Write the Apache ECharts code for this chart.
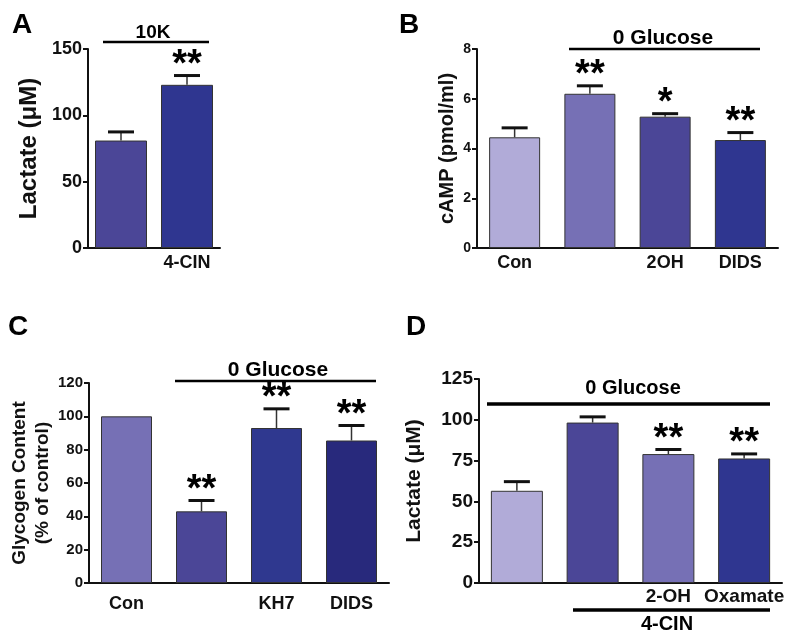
<!DOCTYPE html>
<html><head><meta charset="utf-8">
<script src="https://cdn.jsdelivr.net/npm/echarts@6/dist/echarts.min.js"></script>
<style>html,body{margin:0;padding:0;background:#fff}#c{width:800px;height:643px}</style>
</head><body><div id="c"></div>
<script>
// ---- Data ----
const aCategories = ['', '4-CIN'];
const aValues = [81, 123];
const aSem = [6.5, 7];
const aSig = ['', '**'];

const bCategories = ['Con', '', '2OH', 'DIDS'];
const bValues = [4.45, 6.2, 5.28, 4.34];
const bSem = [0.38, 0.32, 0.12, 0.3];
const bSig = ['', '**', '*', '**'];

const cCategories = ['Con', '', 'KH7', 'DIDS'];
const cValues = [100, 43, 93, 85.5];
const cSem = [0, 6.5, 11.5, 9];
const cSig = ['', '**', '**', '**'];

const dCategories = ['', '', '2-OH', 'Oxamate'];
const dValues = [56.5, 98.3, 79, 76.3];
const dSem = [5.6, 3.5, 2.8, 2.8];
const dSig = ['', '', '**', '**'];

// ---- Styles ----
const LAV = '#b1abd8', MED = '#7670b5', MID = '#4b4697', DRK = '#2f3690', DRK2 = '#28297c', DRK3 = '#2f388f';
const colorsA = [MID, DRK];
const colorsB = [LAV, MED, MID, DRK];
const colorsC = [MED, MID, DRK3, DRK2];
const colorsD = [LAV, MID, MED, DRK];
const FONT = "'Liberation Sans', Arial, sans-serif";

const chart = echarts.init(document.getElementById('c'), null, {renderer: 'canvas'});

const panels = [
  {cats: aCategories, vals: aValues, sem: aSem, sig: aSig, colors: colorsA, min: 0, max: 150, interval: 50,
   grid: {left: 88, top: 49, width: 132, height: 199}, name: 'Lactate (\u03bcM)', nameSize: 24, nameGap: 44,
   tickSize: 18, xSize: 18, xMargin: 6, barWidth: 52},
  {cats: bCategories, vals: bValues, sem: bSem, sig: bSig, colors: colorsB, min: 0, max: 8, interval: 2,
   grid: {left: 477, top: 49, width: 301, height: 199}, name: 'cAMP (pmol/ml)', nameSize: 20, nameGap: 17,
   tickSize: 14, xSize: 18, xMargin: 6, barWidth: 51},
  {cats: cCategories, vals: cValues, sem: cSem, sig: cSig, colors: colorsC, min: 0, max: 120, interval: 20,
   grid: {left: 89, top: 383, width: 300, height: 200}, name: 'Glycogen Content\n(% of control)', nameSize: 19, nameGap: 28,
   tickSize: 15, xSize: 18, xMargin: 12, barWidth: 51},
  {cats: dCategories, vals: dValues, sem: dSem, sig: dSig, colors: colorsD, min: 0, max: 125, interval: 25,
   grid: {left: 479, top: 379, width: 303, height: 204}, name: 'Lactate (\u03bcM)', nameSize: 21, nameGap: 52,
   tickSize: 19, xSize: 19, xMargin: 4, barWidth: 52}
];

const grids = [], xAxes = [], yAxes = [], series = [];
panels.forEach((p, i) => {
  grids.push(Object.assign({containLabel: false}, p.grid));
  xAxes.push({
    type: 'category', gridIndex: i, data: p.cats,
    axisLine: {lineStyle: {color: '#111', width: 2}},
    axisTick: {show: false},
    axisLabel: {color: '#111', fontFamily: FONT, fontWeight: 'bold', fontSize: p.xSize, margin: p.xMargin, interval: 0}
  });
  yAxes.push({
    type: 'value', gridIndex: i, min: p.min, max: p.max, interval: p.interval,
    name: p.name, nameLocation: 'middle', nameRotate: 90, nameGap: p.nameGap,
    nameTextStyle: {color: '#111', fontFamily: FONT, fontWeight: 'bold', fontSize: p.nameSize, lineHeight: p.nameSize * 1.2},
    axisLine: {show: true, lineStyle: {color: '#111', width: 2}},
    axisTick: {show: true, length: 5, lineStyle: {color: '#111', width: 2}},
    axisLabel: {color: '#111', fontFamily: FONT, fontWeight: 'bold', fontSize: p.tickSize, margin: 6},
    splitLine: {show: false}
  });
  series.push({
    type: 'bar', xAxisIndex: i, yAxisIndex: i, barWidth: p.barWidth,
    data: p.vals.map((v, k) => ({value: v, itemStyle: {color: p.colors[k]}})),
    itemStyle: {borderColor: '#333', borderWidth: 1},
    silent: true, animation: false
  });
  series.push({
    type: 'custom', xAxisIndex: i, yAxisIndex: i, silent: true, animation: false, clip: false, z: 5,
    data: p.vals.map((v, k) => [k, v, p.sem[k]]),
    renderItem: function (params, api) {
      const k = api.value(0), v = api.value(1), e = api.value(2);
      const base = api.coord([k, v]);
      const top = api.coord([k, v + e]);
      const children = [];
      if (e > 0) {
        children.push({type: 'line', shape: {x1: base[0], y1: base[1], x2: top[0], y2: top[1]}, style: {stroke: '#333', lineWidth: 1.5}});
        children.push({type: 'line', shape: {x1: top[0] - 13, y1: top[1], x2: top[0] + 13, y2: top[1]}, style: {stroke: '#111', lineWidth: 3}});
      }
      const s = p.sig[k];
      if (s) {
        children.push({type: 'text', x: top[0], y: top[1] - 10,
          style: {text: s, fill: '#000', font: 'bold 38px ' + FONT, textAlign: 'center', textVerticalAlign: 'middle'}});
      }
      return {type: 'group', children: children};
    }
  });
});

function hline(x1, x2, y, w) {
  return {type: 'line', shape: {x1: x1, y1: y, x2: x2, y2: y}, style: {stroke: '#000', lineWidth: w}, silent: true};
}
function txt(t, x, y, size) {
  return {type: 'text', x: x, y: y, style: {text: t, fill: '#000', font: 'bold ' + size + 'px ' + FONT, textAlign: 'center', textVerticalAlign: 'middle'}, silent: true};
}

const graphic = [
  txt('A', 22, 25, 28), txt('B', 409, 25, 28), txt('C', 18, 327, 28), txt('D', 416, 327, 28),
  hline(103, 209, 42, 2.5), txt('10K', 153, 33, 19),
  hline(569, 760, 49, 2.5), txt('0 Glucose', 663, 38, 21),
  hline(175, 376, 381, 2.5), txt('0 Glucose', 278, 370, 21),
  hline(487, 770, 404, 3.5), txt('0 Glucose', 633, 388, 20),
  hline(573, 770, 610, 3.5), txt('4-CIN', 667, 624, 20)
];

chart.setOption({
  animation: false,
  backgroundColor: '#fff',
  grid: grids, xAxis: xAxes, yAxis: yAxes, series: series, graphic: graphic
});
</script></body></html>
